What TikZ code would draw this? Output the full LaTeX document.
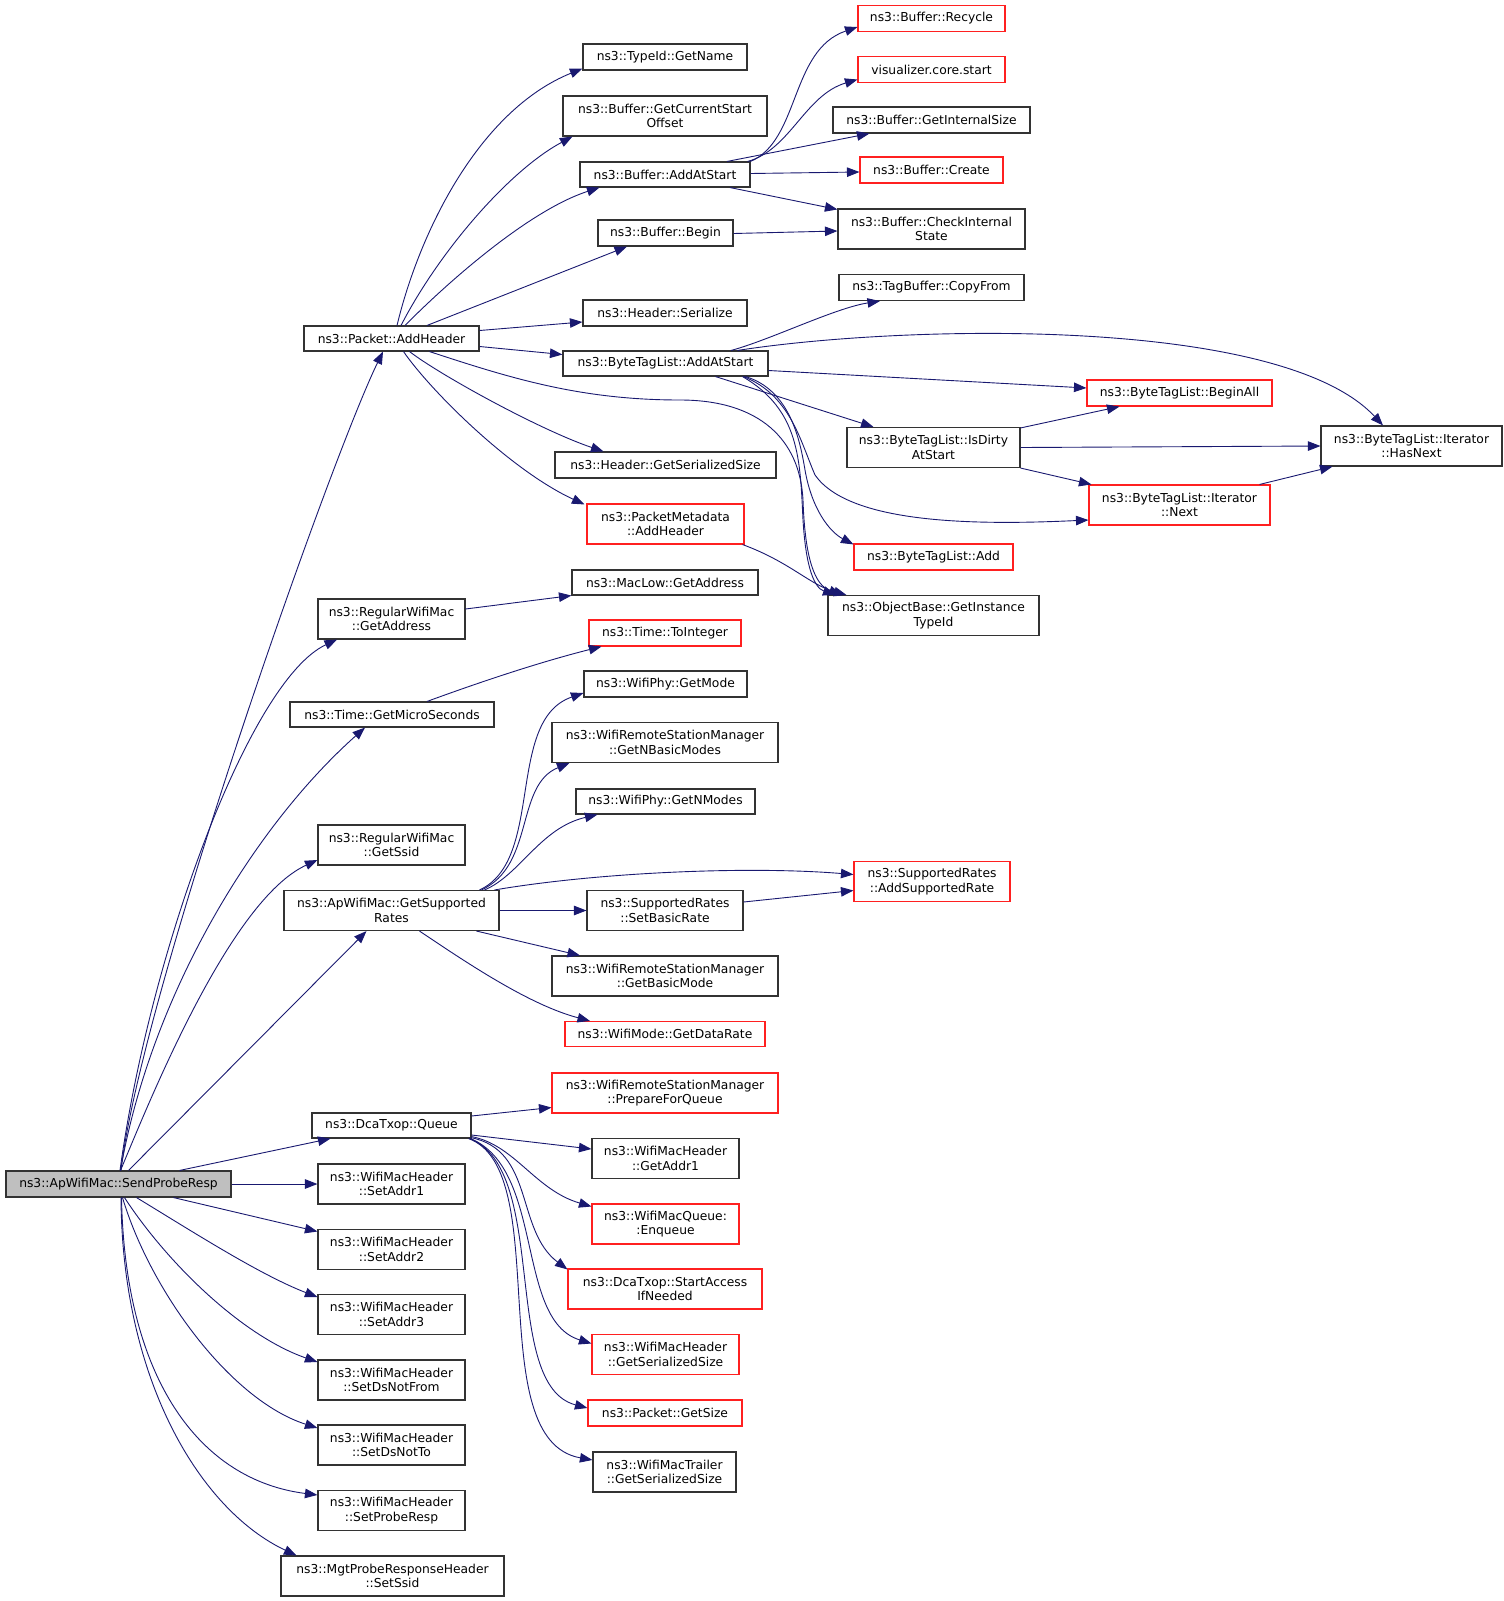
\documentclass[tikz,border=0pt]{standalone}
\usepackage{fontspec}
\setmainfont{DejaVu Sans}
\usetikzlibrary{arrows.meta,calc}
\definecolor{edgeblue}{HTML}{191970}
\definecolor{boxred}{HTML}{FF2020}
\definecolor{rootgray}{HTML}{BFBFBF}
\newcommand\gfont{\fontsize{12.3}{14.3}\selectfont}
\tikzset{
  box/.style={draw=black!80, line width=1.1pt, fill=white, inner sep=0pt, align=center, font=\gfont},
  redbox/.style={box, draw=boxred},
  rootbox/.style={box, fill=rootgray},
  edge/.style={draw=edgeblue, line width=0.9pt, -{Triangle[length=12.5pt,width=9.5pt]}},
}
\begin{document}
\begin{tikzpicture}[x=1pt,y=-1pt]
\useasboundingbox (0,0) rectangle (1504,1601);
% ---- nodes ----
\node[rootbox, minimum width=225pt, minimum height=26pt] (root) at (118.5,1184) {ns3::ApWifiMac::SendProbeResp};
\node[box, minimum width=175pt, minimum height=25pt] (addhdr) at (391.5,338.5) {ns3::Packet::AddHeader};
\node[box, minimum width=164pt, minimum height=26pt] (getname) at (665,57) {ns3::TypeId::GetName};
\node[box, minimum width=204pt, minimum height=40pt] (curstart) at (665,116) {ns3::Buffer::GetCurrentStart\\Offset};
\node[box, minimum width=170pt, minimum height=25pt] (bufadd) at (665,174.5) {ns3::Buffer::AddAtStart};
\node[box, minimum width=135pt, minimum height=26pt] (begin) at (665.5,233) {ns3::Buffer::Begin};
\node[box, minimum width=164pt, minimum height=26pt] (serialize) at (665,313) {ns3::Header::Serialize};
\node[box, minimum width=205pt, minimum height=25pt] (btladd) at (665.5,363.5) {ns3::ByteTagList::AddAtStart};
\node[box, minimum width=221pt, minimum height=26pt] (gss) at (665.5,465) {ns3::Header::GetSerializedSize};
\node[redbox, minimum width=157pt, minimum height=40pt] (pmadd) at (665.5,524) {ns3::PacketMetadata\\::AddHeader};
\node[redbox, minimum width=147pt, minimum height=26pt] (recycle) at (931.5,18.5) {ns3::Buffer::Recycle};
\node[redbox, minimum width=147pt, minimum height=26pt] (viz) at (931.5,69.5) {visualizer.core.start};
\node[box, minimum width=197pt, minimum height=26pt] (intsize) at (931.5,120) {ns3::Buffer::GetInternalSize};
\node[redbox, minimum width=143pt, minimum height=26pt] (create) at (931.5,170) {ns3::Buffer::Create};
\node[box, minimum width=187pt, minimum height=40pt] (check) at (931.5,229) {ns3::Buffer::CheckInternal\\State};
\node[box, minimum width=185pt, minimum height=26pt] (copyfrom) at (931.5,287.5) {ns3::TagBuffer::CopyFrom};
\node[redbox, minimum width=185pt, minimum height=26pt] (beginall) at (1179.5,393) {ns3::ByteTagList::BeginAll};
\node[box, minimum width=173pt, minimum height=40pt] (isdirty) at (933.5,447.5) {ns3::ByteTagList::IsDirty\\AtStart};
\node[box, minimum width=181pt, minimum height=40pt] (hasnext) at (1411.5,446) {ns3::ByteTagList::Iterator\\::HasNext};
\node[redbox, minimum width=181pt, minimum height=40pt] (next) at (1179.5,505) {ns3::ByteTagList::Iterator\\::Next};
\node[redbox, minimum width=159pt, minimum height=26pt] (btadd) at (933.5,557) {ns3::ByteTagList::Add};
\node[box, minimum width=211pt, minimum height=40pt] (objbase) at (933.5,615.5) {ns3::ObjectBase::GetInstance\\TypeId};
\node[box, minimum width=186pt, minimum height=25pt] (maclow) at (665,582.5) {ns3::MacLow::GetAddress};
\node[box, minimum width=147pt, minimum height=40pt] (rwgetaddr) at (391.5,619) {ns3::RegularWifiMac\\::GetAddress};
\node[redbox, minimum width=152pt, minimum height=26pt] (toint) at (665,633) {ns3::Time::ToInteger};
\node[box, minimum width=204pt, minimum height=25pt] (micro) at (392,714.5) {ns3::Time::GetMicroSeconds};
\node[box, minimum width=163pt, minimum height=26pt] (getmode) at (665.5,684) {ns3::WifiPhy::GetMode};
\node[box, minimum width=226pt, minimum height=40pt] (nbasic) at (665,742.5) {ns3::WifiRemoteStationManager\\::GetNBasicModes};
\node[box, minimum width=179pt, minimum height=25pt] (nmodes) at (665.5,801.5) {ns3::WifiPhy::GetNModes};
\node[box, minimum width=147pt, minimum height=40pt] (rwssid) at (391.5,845) {ns3::RegularWifiMac\\::GetSsid};
\node[box, minimum width=215pt, minimum height=40pt] (getsup) at (391.5,910.5) {ns3::ApWifiMac::GetSupported\\Rates};
\node[redbox, minimum width=156pt, minimum height=40pt] (addsup) at (932,881.5) {ns3::SupportedRates\\::AddSupportedRate};
\node[box, minimum width=156pt, minimum height=40pt] (setbasic) at (665,910.5) {ns3::SupportedRates\\::SetBasicRate};
\node[box, minimum width=226pt, minimum height=40pt] (basicmode) at (665,976) {ns3::WifiRemoteStationManager\\::GetBasicMode};
\node[redbox, minimum width=200pt, minimum height=25pt] (datarate) at (665,1034) {ns3::WifiMode::GetDataRate};
\node[redbox, minimum width=226pt, minimum height=40pt] (prepare) at (665,1093) {ns3::WifiRemoteStationManager\\::PrepareForQueue};
\node[box, minimum width=159pt, minimum height=25pt] (queue) at (391.5,1125.5) {ns3::DcaTxop::Queue};
\node[box, minimum width=147pt, minimum height=40pt] (getaddr1) at (665.5,1158.5) {ns3::WifiMacHeader\\::GetAddr1};
\node[redbox, minimum width=147pt, minimum height=40pt] (enqueue) at (665.5,1224) {ns3::WifiMacQueue:\\:Enqueue};
\node[redbox, minimum width=194pt, minimum height=40pt] (startacc) at (665,1289) {ns3::DcaTxop::StartAccess\\IfNeeded};
\node[redbox, minimum width=147pt, minimum height=40pt] (whgss) at (665.5,1354.5) {ns3::WifiMacHeader\\::GetSerializedSize};
\node[redbox, minimum width=154pt, minimum height=26pt] (getsize) at (665,1413) {ns3::Packet::GetSize};
\node[box, minimum width=143pt, minimum height=40pt] (trailer) at (664.5,1472) {ns3::WifiMacTrailer\\::GetSerializedSize};
\node[box, minimum width=147pt, minimum height=40pt] (setaddr1) at (391.5,1184) {ns3::WifiMacHeader\\::SetAddr1};
\node[box, minimum width=147pt, minimum height=40pt] (setaddr2) at (391.5,1249.5) {ns3::WifiMacHeader\\::SetAddr2};
\node[box, minimum width=147pt, minimum height=40pt] (setaddr3) at (391.5,1314.5) {ns3::WifiMacHeader\\::SetAddr3};
\node[box, minimum width=147pt, minimum height=40pt] (dsnotfrom) at (391.5,1380) {ns3::WifiMacHeader\\::SetDsNotFrom};
\node[box, minimum width=147pt, minimum height=40pt] (dsnotto) at (391.5,1445) {ns3::WifiMacHeader\\::SetDsNotTo};
\node[box, minimum width=147pt, minimum height=40pt] (proberesp) at (391.5,1510.5) {ns3::WifiMacHeader\\::SetProbeResp};
\node[box, minimum width=223pt, minimum height=40pt] (mgt) at (392.5,1576) {ns3::MgtProbeResponseHeader\\::SetSsid};
% ---- edges from root ----
\draw[edge] ($(root.north)+(2.5,0)$) .. controls (140,1000) and (330,460) .. ($(addhdr.south)+(-8.5,0)$);
\draw[edge] ($(root.north)+(1.5,0)$) .. controls (150,950) and (250,680) .. ($(rwgetaddr.south)+(-54.5,0)$);
\draw[edge] ($(root.north)+(2,0)$) .. controls (150,1000) and (250,830) .. ($(micro.south)+(-27,0)$);
\draw[edge] ($(root.north)+(2,0)$) .. controls (150,1100) and (230,900) .. ($(rwssid.west)+(0,15)$);
\draw[edge] ($(root.north)+(10,0)$) -- ($(getsup.south)+(-25,0)$);
\draw[edge] ($(root.north)+(61,0)$) -- ($(queue.south)+(-61,0)$);
\draw[edge] (root.east) -- (setaddr1.west);
\draw[edge] ($(root.south)+(55,0)$) -- ($(setaddr2.west)+(0,-18)$);
\draw[edge] ($(root.south)+(18,0)$) .. controls (190,1230) and (260,1275) .. ($(setaddr3.west)+(0,-17.5)$);
\draw[edge] ($(root.south)+(6,0)$) .. controls (165,1260) and (240,1335) .. ($(dsnotfrom.west)+(0,-18)$);
\draw[edge] ($(root.south)+(4,0)$) .. controls (150,1290) and (230,1400) .. ($(dsnotto.west)+(0,-17)$);
\draw[edge] ($(root.south)+(3,0)$) .. controls (125,1380) and (200,1480) .. ($(proberesp.west)+(0,-15.5)$);
\draw[edge] ($(root.south)+(2.5,0)$) .. controls (122,1380) and (200,1510) .. ($(mgt.north west)+(16,0)$);
% ---- edges from Packet::AddHeader ----
\draw[edge] ($(addhdr.north)+(5.5,0)$) .. controls (420,230) and (480,110) .. ($(getname.south west)+(0,-2)$);
\draw[edge] ($(addhdr.north)+(9.5,0)$) .. controls (440,250) and (510,170) .. ($(curstart.south west)+(10,0)$);
\draw[edge] ($(addhdr.north)+(13.5,0)$) .. controls (450,280) and (530,210) .. ($(bufadd.south west)+(20,0)$);
\draw[edge] ($(addhdr.north)+(35.5,0)$) -- ($(begin.south)+(-38.5,0)$);
\draw[edge] ($(addhdr.east)+(0,-8)$) -- ($(serialize.west)+(0,9)$);
\draw[edge] ($(addhdr.east)+(0,8)$) -- ($(btladd.west)+(0,-9)$);
\draw[edge] ($(addhdr.south)+(18,0)$) .. controls (440,375) and (540,430) .. ($(gss.north)+(-62,0)$);
\draw[edge] ($(addhdr.south)+(12,0)$) .. controls (430,390) and (510,470) .. ($(pmadd.north west)+(-2,1)$);
\draw[edge] ($(addhdr.south)+(38,0)$) .. controls (510,378) and (580,400) .. (680,400) .. controls (760,400) and (800,440) .. (803,500) .. controls (805,560) and (815,585) .. ($(objbase.north west)+(14,0)$);
% ---- edges from ByteTagList::AddAtStart ----
\draw[edge] ($(btladd.north)+(65.5,0)$) .. controls (770,340) and (835,308) .. ($(copyfrom.south)+(-51.5,0)$);
\draw[edge] ($(btladd.north)+(72,0)$) .. controls (900,325) and (1280,315) .. ($(hasnext.north)+(-28.5,0)$);
\draw[edge] ($(btladd.east)+(0,7)$) -- ($(beginall.west)+(0,-5)$);
\draw[edge] ($(btladd.south)+(50,0)$) -- ($(isdirty.north)+(-60,0)$);
\draw[edge] ($(btladd.south)+(78,0)$) .. controls (790,395) and (800,440) .. (815,475) .. controls (850,525) and (980,525) .. ($(next.west)+(0,15)$);
\draw[edge] ($(btladd.south)+(80,0)$) .. controls (790,390) and (800,440) .. (805,470) .. controls (812,510) and (830,532) .. ($(btadd.north west)+(0,1)$);
\draw[edge] ($(btladd.south)+(77,0)$) .. controls (800,410) and (800,460) .. (803,520) .. controls (806,570) and (815,588) .. ($(objbase.north west)+(8,0)$);
\draw[edge] ($(pmadd.south east)+(-2,0)$) .. controls (790,562) and (810,585) .. ($(objbase.north west)+(19,0)$);
% ---- IsDirty / Next ----
\draw[edge] ($(isdirty.north east)+(0,1)$) -- ($(beginall.south west)+(33,0)$);
\draw[edge] (isdirty.east) -- (hasnext.west);
\draw[edge] (isdirty.south east) -- ($(next.north west)+(3,0)$);
\draw[edge] ($(next.north east)+(-11,0)$) -- ($(hasnext.south west)+(12,0)$);
% ---- Buffer::AddAtStart ----
\draw[edge] ($(bufadd.north east)+(0,0)$) .. controls (800,140) and (790,50) .. ($(recycle.west)+(0,8.5)$);
\draw[edge] ($(bufadd.north east)+(-3,0)$) .. controls (790,150) and (805,95) .. ($(viz.west)+(0,10)$);
\draw[edge] ($(bufadd.north)+(62,0)$) -- ($(intsize.south west)+(37,0)$);
\draw[edge] ($(bufadd.east)+(0,-1)$) -- ($(create.west)+(0,2)$);
\draw[edge] ($(bufadd.south)+(65,0)$) -- ($(check.north west)+(0,1)$);
\draw[edge] ($(begin.east)+(0,0.5)$) -- ($(check.west)+(0,2)$);
% ---- GetSupportedRates ----
\draw[edge] ($(getsup.north)+(88,0)$) .. controls (545,860) and (505,720) .. ($(getmode.west)+(0,9)$);
\draw[edge] ($(getsup.north)+(90,0)$) .. controls (535,865) and (515,785) .. ($(nbasic.south west)+(18,0)$);
\draw[edge] ($(getsup.north)+(93,0)$) .. controls (520,875) and (540,828) .. ($(nmodes.south west)+(22,0)$);
\draw[edge] ($(getsup.north)+(103,0)$) .. controls (600,872) and (750,866) .. ($(addsup.west)+(0,-7)$);
\draw[edge] (getsup.east) -- (setbasic.west);
\draw[edge] ($(getsup.south)+(85,0)$) -- ($(basicmode.north)+(-85,0)$);
\draw[edge] ($(getsup.south)+(28,0)$) .. controls (470,965) and (530,1005) .. ($(datarate.north)+(-75,0)$);
\draw[edge] ($(setbasic.east)+(0,-8.5)$) -- ($(addsup.west)+(0,9)$);
% ---- misc ----
\draw[edge] ($(micro.north)+(35,0)$) .. controls (480,682) and (540,662) .. ($(toint.south west)+(13,0)$);
\draw[edge] ($(rwgetaddr.east)+(0,-10)$) -- (maclow.south west);
% ---- DcaTxop::Queue ----
\draw[edge] ($(queue.east)+(0,-9.5)$) -- ($(prepare.west)+(0,14.5)$);
\draw[edge] ($(queue.east)+(0,9.5)$) -- ($(getaddr1.west)+(0,-9.5)$);
\draw[edge] ($(queue.south east)+(0,-2)$) .. controls (515,1145) and (535,1190) .. ($(enqueue.west)+(0,-17.5)$);
\draw[edge] ($(queue.south east)+(-1,-1)$) .. controls (535,1150) and (515,1230) .. ($(startacc.north west)+(0,1)$);
\draw[edge] ($(queue.south east)+(-1,0)$) .. controls (545,1170) and (515,1320) .. ($(whgss.west)+(0,-11)$);
\draw[edge] ($(queue.south east)+(-2,0)$) .. controls (550,1170) and (500,1385) .. ($(getsize.west)+(0,-5)$);
\draw[edge] ($(queue.south east)+(-3,0)$) .. controls (555,1170) and (480,1440) .. ($(trailer.west)+(0,-12)$);
\end{tikzpicture}
\end{document}
